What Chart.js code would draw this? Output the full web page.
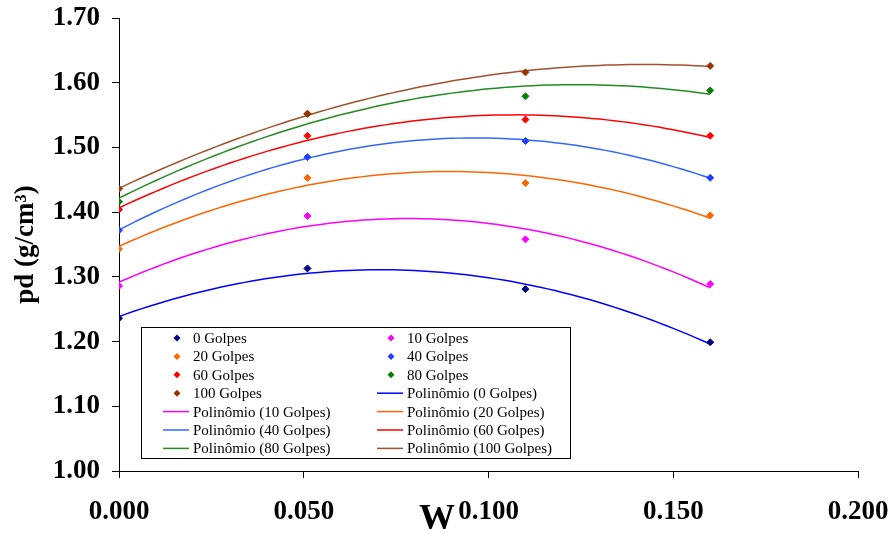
<!DOCTYPE html>
<html>
<head>
<meta charset="utf-8">
<script src="https://cdn.jsdelivr.net/npm/chart.js@4/dist/chart.umd.min.js"></script>
<style>
  html, body { margin: 0; padding: 0; background: #fff; }
  #wrap { width: 893px; height: 534px; }
</style>
</head>
<body>
<div id="wrap"><canvas id="chart_pd"></canvas></div>
<script>

//Moisture values (W) of the four compactions
const umidade = [0, 0.051, 0.110, 0.160];

//Dry density per number of blows
const golpes_0 = [1.236, 1.313, 1.281, 1.199];
const golpes_10 = [1.286, 1.394, 1.358, 1.289];
const golpes_20 = [1.343, 1.453, 1.445, 1.395];
const golpes_40 = [1.372, 1.485, 1.510, 1.453];
const golpes_60 = [1.404, 1.518, 1.543, 1.518];
const golpes_80 = [1.416, 1.552, 1.579, 1.588];
const golpes_100 = [1.436, 1.552, 1.616, 1.626];

const nomes = ["0 Golpes", "10 Golpes", "20 Golpes", "40 Golpes", "60 Golpes", "80 Golpes", "100 Golpes"];

//Axis ticks
const yTicks = [1.00, 1.10, 1.20, 1.30, 1.40, 1.50, 1.60, 1.70];
const xTicks = [0.000, 0.050, 0.100, 0.150, 0.200];

//Marker and trendline colours
const corPonto = ["#000080", "#FF00FF", "#FF6600", "#1F3FFF", "#FF0000", "#008000", "#993300"];
const corLinha = ["#0000FF", "#FF00FF", "#FF6600", "#3366FF", "#FF0000", "#228B22", "#A0522D"];

const series = [golpes_0, golpes_10, golpes_20, golpes_40, golpes_60, golpes_80, golpes_100];

const serif = "'Liberation Serif', 'Times New Roman', serif";

//Least squares 2nd order polynomial (the "Polinômio" trendline)
function fitQuadratic(xs, ys) {
  let s = [0, 0, 0, 0, 0], t = [0, 0, 0];
  for (let i = 0; i < xs.length; i++) {
    let p = 1;
    for (let k = 0; k < 5; k++) {
      s[k] += p;
      if (k < 3) t[k] += p * ys[i];
      p *= xs[i];
    }
  }
  //Solve the 3x3 normal equations by Gauss elimination
  let m = [
    [s[0], s[1], s[2], t[0]],
    [s[1], s[2], s[3], t[1]],
    [s[2], s[3], s[4], t[2]]
  ];
  for (let c = 0; c < 3; c++) {
    for (let r = c + 1; r < 3; r++) {
      const f = m[r][c] / m[c][c];
      for (let k = c; k < 4; k++) m[r][k] -= f * m[c][k];
    }
  }
  let a = [0, 0, 0];
  for (let r = 2; r >= 0; r--) {
    let v = m[r][3];
    for (let k = r + 1; k < 3; k++) v -= m[r][k] * a[k];
    a[r] = v / m[r][r];
  }
  return a;
}

function trendline(ys) {
  const a = fitQuadratic(umidade, ys);
  const xMax = umidade[umidade.length - 1];
  let pts = [];
  for (let i = 0; i <= 80; i++) {
    const x = xMax * i / 80;
    pts.push({ x: x, y: a[0] + a[1] * x + a[2] * x * x });
  }
  return pts;
}

//Build the datasets: markers first, then trendlines
let datasets = [];
for (let i = 0; i < series.length; i++) {
  datasets.push({
    label: nomes[i],
    data: umidade.map((x, j) => ({ x: x, y: series[i][j] })),
    showLine: false,
    pointStyle: "rectRot",
    pointRadius: 3.5,
    pointBackgroundColor: corPonto[i],
    pointBorderColor: corPonto[i],
    pointBorderWidth: 1,
    backgroundColor: corPonto[i],
    borderColor: corPonto[i],
    order: 10 - i
  });
}
for (let i = 0; i < series.length; i++) {
  datasets.push({
    label: "Polinômio (" + nomes[i] + ")",
    data: trendline(series[i]),
    showLine: true,
    pointRadius: 0,
    borderColor: corLinha[i],
    borderWidth: 1.5,
    tension: 0,
    order: 20
  });
}

//Legend box drawn inside the plot, two columns
const legendBox = {
  id: "legendBox",
  afterDraw(chart) {
    const ctx = chart.ctx;
    const area = chart.chartArea;
    const left = area.left + 22, top = area.top + 309;
    const w = 429, h = 131;
    ctx.save();
    ctx.fillStyle = "#fff";
    ctx.fillRect(left, top, w, h);
    ctx.strokeStyle = "#000";
    ctx.lineWidth = 1;
    ctx.strokeRect(left + 0.5, top + 0.5, w, h);
    ctx.font = "15px " + serif;
    ctx.textBaseline = "middle";
    ctx.fillStyle = "#000";
    chart.data.datasets.forEach((ds, i) => {
      const col = i % 2, row = Math.floor(i / 2);
      const cx = left + (col === 0 ? 0 : 214);
      const cy = top + 11 + row * 18.4;
      if (ds.showLine) {
        ctx.strokeStyle = ds.borderColor;
        ctx.lineWidth = 1.5;
        ctx.beginPath();
        ctx.moveTo(cx + 22, cy);
        ctx.lineTo(cx + 48, cy);
        ctx.stroke();
      } else {
        ctx.fillStyle = ds.pointBackgroundColor;
        ctx.beginPath();
        ctx.moveTo(cx + 36, cy - 3.5);
        ctx.lineTo(cx + 39.5, cy);
        ctx.lineTo(cx + 36, cy + 3.5);
        ctx.lineTo(cx + 32.5, cy);
        ctx.closePath();
        ctx.fill();
      }
      ctx.fillStyle = "#000";
      ctx.fillText(ds.label, cx + 52, cy + 1);
    });
    ctx.restore();
  }
};

//X axis title "W", sits under the axis left of 0.100
const xTitle = {
  id: "xTitle",
  afterDraw(chart) {
    const ctx = chart.ctx;
    const x = chart.scales.x.getPixelForValue(0.0855);
    ctx.save();
    ctx.font = "bold 36px " + serif;
    ctx.fillStyle = "#000";
    ctx.textAlign = "center";
    ctx.textBaseline = "alphabetic";
    ctx.fillText("W", x + 2, 529);
    ctx.restore();
  }
};

const tickFont = { family: serif, size: 27, weight: "bold" };

new Chart(document.getElementById("chart_pd"), {
  type: "scatter",
  data: { datasets: datasets },
  options: {
    responsive: true,
    maintainAspectRatio: false,
    animation: false,
    layout: { padding: { top: 18, right: 35, left: 0, bottom: 0 } },
    plugins: {
      legend: { display: false },
      tooltip: { enabled: false }
    },
    scales: {
      x: {
        type: "linear",
        min: 0,
        max: 0.2,
        afterBuildTicks: s => { s.ticks = xTicks.map(v => ({ value: v })); },
        afterFit: s => {
          s.height = 63;
          s.paddingLeft = 0;
          s.paddingRight = 0;
        },
        ticks: {
          color: "#000",
          font: tickFont,
          padding: 18,
          maxRotation: 0,
          callback: v => v.toFixed(3)
        },
        grid: { drawOnChartArea: false, drawTicks: true, tickLength: 7, color: "#000" },
        border: { color: "#000", width: 1 }
      },
      y: {
        type: "linear",
        min: 1,
        max: 1.7,
        afterBuildTicks: s => { s.ticks = yTicks.map(v => ({ value: v })); },
        afterFit: s => {
          s.width = 119;
          s.paddingTop = 0;
          s.paddingBottom = 0;
        },
        ticks: {
          color: "#000",
          font: tickFont,
          padding: 12,
          callback: v => v.toFixed(2)
        },
        grid: { drawOnChartArea: false, drawTicks: true, tickLength: 7, color: "#000" },
        border: { color: "#000", width: 1 },
        title: {
          display: true,
          text: "pd (g/cm³)",
          color: "#000",
          font: { family: serif, size: 27, weight: "bold" },
          padding: { top: 10, bottom: 0 }
        }
      }
    }
  },
  plugins: [legendBox, xTitle]
});
</script>
</body>
</html>
